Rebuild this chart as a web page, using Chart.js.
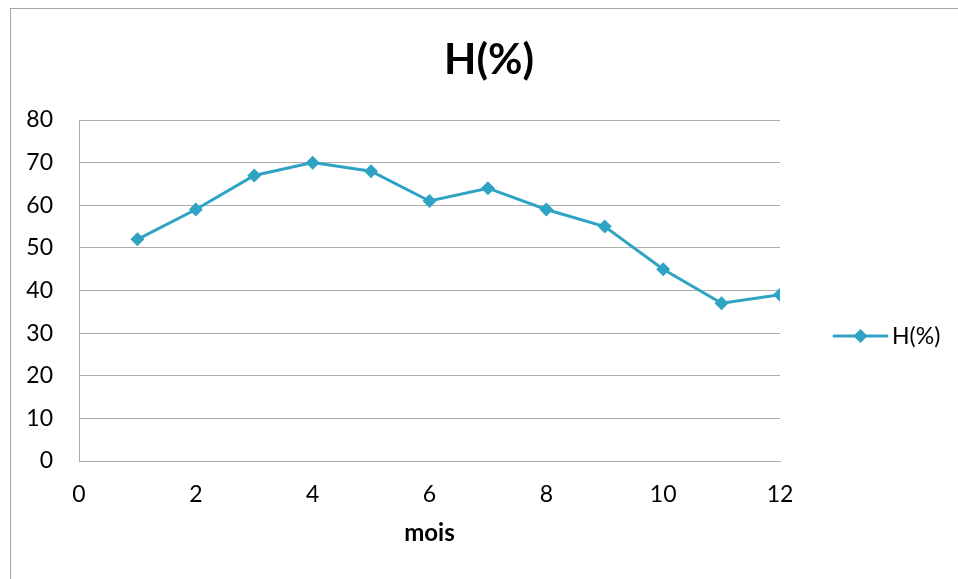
<!DOCTYPE html>
<html>
<head>
<meta charset="utf-8">
<script src="https://cdn.jsdelivr.net/npm/chart.js@4/dist/chart.umd.min.js"></script>
<style>
  html, body { margin: 0; padding: 0; background: #fff; }
  #wrap { position: relative; width: 958px; height: 579px; overflow: hidden; }
  #frame { position: absolute; left: 10px; top: 8px; width: 1000px; height: 700px;
           border-left: 1px solid #a6a6a6; border-top: 1px solid #a6a6a6; box-sizing: border-box; }
  canvas { position: absolute; left: 0; top: 0; }
</style>
</head>
<body>
<div id="wrap">
  <div id="frame"></div>
  <canvas id="c" width="958" height="579"></canvas>
</div>
<script>
// Monthly humidity, H(%)
const months = [1, 2, 3, 4, 5, 6, 7, 8, 9, 10, 11, 12];
const humidity = [52, 59, 67, 70, 68, 61, 64, 59, 55, 45, 37, 39];
const seriesName = 'H(%)';
const chartTitle = 'H(%)';
const xAxisTitle = 'mois';

const FONT = 'Lato, "Open Sans", "DejaVu Sans", sans-serif';
const LINE = '#2fa3c3';
const GRID = '#adadad';

const titlePlugin = {
  id: 'fixedTitle',
  afterDraw(chart) {
    const ctx = chart.ctx;
    ctx.save();
    ctx.font = 'bold 42px ' + FONT;
    ctx.fillStyle = '#000';
    ctx.textAlign = 'center';
    ctx.textBaseline = 'alphabetic';
    ctx.fillText(chartTitle, 489, 74);
    ctx.restore();
  }
};

const legendPlugin = {
  id: 'sideLegend',
  afterDraw(chart) {
    const ctx = chart.ctx;
    const y = 336;
    ctx.save();
    ctx.strokeStyle = LINE;
    ctx.lineWidth = 3;
    ctx.lineCap = 'round';
    ctx.beginPath();
    ctx.moveTo(834, y);
    ctx.lineTo(887, y);
    ctx.stroke();
    ctx.fillStyle = LINE;
    ctx.beginPath();
    ctx.moveTo(860.5, y - 7);
    ctx.lineTo(867.5, y);
    ctx.lineTo(860.5, y + 7);
    ctx.lineTo(853.5, y);
    ctx.closePath();
    ctx.fill();
    ctx.font = '23px ' + FONT;
    ctx.fillStyle = '#000';
    ctx.textAlign = 'left';
    ctx.textBaseline = 'middle';
    ctx.fillText(seriesName, 892, y + 1);
    ctx.restore();
  }
};

new Chart(document.getElementById('c'), {
  type: 'line',
  data: {
    datasets: [{
      label: seriesName,
      data: months.map((m, i) => ({ x: m, y: humidity[i] })),
      borderColor: LINE,
      backgroundColor: LINE,
      borderWidth: 3,
      pointStyle: 'rectRot',
      pointRadius: 7,
      pointHoverRadius: 7,
      pointBorderWidth: 0,
      tension: 0
    }]
  },
  options: {
    responsive: false,
    animation: false,
    events: [],
    layout: { padding: { left: 0, top: 120, right: 178, bottom: 27 } },
    plugins: {
      legend: { display: false },
      title: { display: false },
      tooltip: { enabled: false }
    },
    scales: {
      x: {
        type: 'linear',
        min: 0, max: 12,
        ticks: { stepSize: 2, color: '#000', font: { family: FONT, size: 23 }, padding: 20, maxRotation: 0 },
        grid: { display: false, drawTicks: false },
        border: { display: true, color: GRID, width: 1 },
        title: { display: true, text: xAxisTitle, color: '#000', font: { family: FONT, size: 24, weight: 'bold' }, padding: { top: 14 } },
        afterFit(scale) { scale.height = 91; }
      },
      y: {
        min: 0, max: 80,
        ticks: { stepSize: 10, color: '#000', font: { family: FONT, size: 23 }, padding: 26 },
        grid: { color: GRID, lineWidth: 1, drawTicks: false },
        border: { display: true, color: GRID, width: 1 },
        afterFit(scale) { scale.width = 79; }
      }
    }
  },
  plugins: [titlePlugin, legendPlugin]
});
</script>
</body>
</html>
